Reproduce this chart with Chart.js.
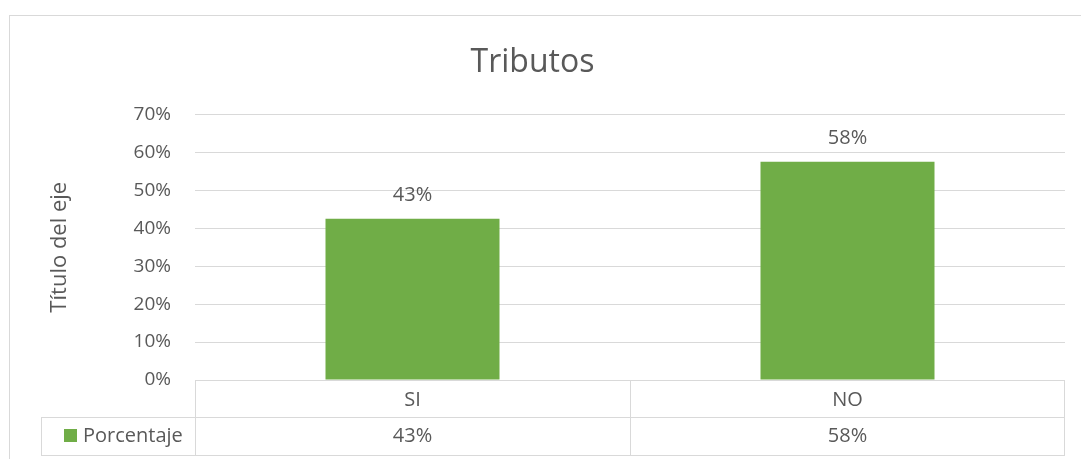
<!DOCTYPE html>
<html>
<head>
<meta charset="utf-8">
<script src="https://cdn.jsdelivr.net/npm/chart.js@4.4.0/dist/chart.umd.min.js"></script>
<style>
  html, body { margin: 0; padding: 0; background: #fff; }
  #wrap { width: 1081px; height: 459px; }
</style>
</head>
<body>
<div id="wrap"><canvas id="myChart" width="1081" height="459"></canvas></div>
<script>
const categories = ['SI', 'NO'];
const seriesName = 'Porcentaje';
const values = [42.5, 57.5];
const yTicks = [0, 10, 20, 30, 40, 50, 60, 70];

const green = '#70ad47';
const textGray = '#595959';
const lineGray = '#d9d9d9';

const pct = v => Math.round(v) + '%';

Chart.defaults.font.family = '"Open Sans", sans-serif';
Chart.defaults.color = textGray;

// value labels above bars + the data table under the axis
const extras = {
  id: 'extras',
  afterDatasetsDraw(chart) {
    const c = chart.ctx;
    const meta = chart.getDatasetMeta(0);
    c.save();
    c.font = '20px "Open Sans"';
    c.fillStyle = textGray;
    c.textAlign = 'center';
    c.textBaseline = 'alphabetic';
    meta.data.forEach((bar, i) => {
      c.fillText(pct(values[i]), bar.x, bar.y - 18);
    });
    c.restore();
  },
  afterDraw(chart) {
    const c = chart.ctx;
    const area = chart.chartArea;
    const x = chart.scales.x;
    const top = area.bottom;
    const mid = top + 37;
    const bot = top + 75;
    const legendLeft = 41;
    c.save();
    c.strokeStyle = lineGray;
    c.lineWidth = 1;
    // outer chart border
    c.strokeRect(9.5, 15.5, 1200, 600);
    c.beginPath();
    c.moveTo(area.left, top + 0.5); c.lineTo(area.right, top + 0.5);
    c.moveTo(legendLeft, mid + 0.5); c.lineTo(area.right, mid + 0.5);
    c.moveTo(legendLeft, bot + 0.5); c.lineTo(area.right, bot + 0.5);
    c.moveTo(legendLeft + 0.5, mid); c.lineTo(legendLeft + 0.5, bot);
    c.moveTo(area.left + 0.5, top); c.lineTo(area.left + 0.5, bot);
    c.moveTo(area.right - 0.5, top); c.lineTo(area.right - 0.5, bot);
    for (let i = 0; i < categories.length - 1; i++) {
      const d = Math.round((x.getPixelForValue(i) + x.getPixelForValue(i + 1)) / 2) + 0.5;
      c.moveTo(d, top); c.lineTo(d, bot);
    }
    c.stroke();
    // legend key
    const rowY = (mid + bot) / 2;
    c.fillStyle = green;
    c.fillRect(64, rowY - 7, 13, 13);
    c.fillStyle = textGray;
    c.font = '20px "Open Sans"';
    c.textBaseline = 'middle';
    c.textAlign = 'left';
    c.fillText(seriesName, 83, rowY);
    c.textAlign = 'center';
    values.forEach((v, i) => {
      c.fillText(pct(v), x.getPixelForValue(i), rowY);
    });
    c.restore();
  }
};

new Chart(document.getElementById('myChart'), {
  type: 'bar',
  data: {
    labels: categories,
    datasets: [{
      label: seriesName,
      data: values,
      backgroundColor: green,
      barPercentage: 0.4,
      categoryPercentage: 1.0
    }]
  },
  options: {
    responsive: false,
    animation: false,
    layout: { padding: { left: 0, right: 16, top: 0, bottom: 0 } },
    plugins: {
      legend: { display: false },
      tooltip: { enabled: false },
      title: {
        display: true,
        text: 'Tributos',
        color: textGray,
        font: { size: 32, weight: 'normal' },
        padding: { top: 44, bottom: 32 }
      }
    },
    scales: {
      x: {
        grid: { display: false, drawTicks: false },
        border: { display: false },
        ticks: { color: textGray, font: { size: 20 }, padding: 8 },
        afterFit: s => { s.height = 79; }
      },
      y: {
        min: 0,
        max: 70,
        afterBuildTicks: s => { s.ticks = yTicks.map(v => ({ value: v })); },
        grid: { color: lineGray, drawTicks: false },
        border: { display: false },
        ticks: { color: textGray, font: { size: 19 }, padding: 24, callback: v => v + '%' },
        title: {
          display: true,
          text: 'Título del eje',
          color: textGray,
          font: { size: 22 },
          padding: { top: 47, bottom: 0 }
        },
        afterFit: s => { s.width = 195; }
      }
    }
  },
  plugins: [extras]
});
</script>
</body>
</html>
